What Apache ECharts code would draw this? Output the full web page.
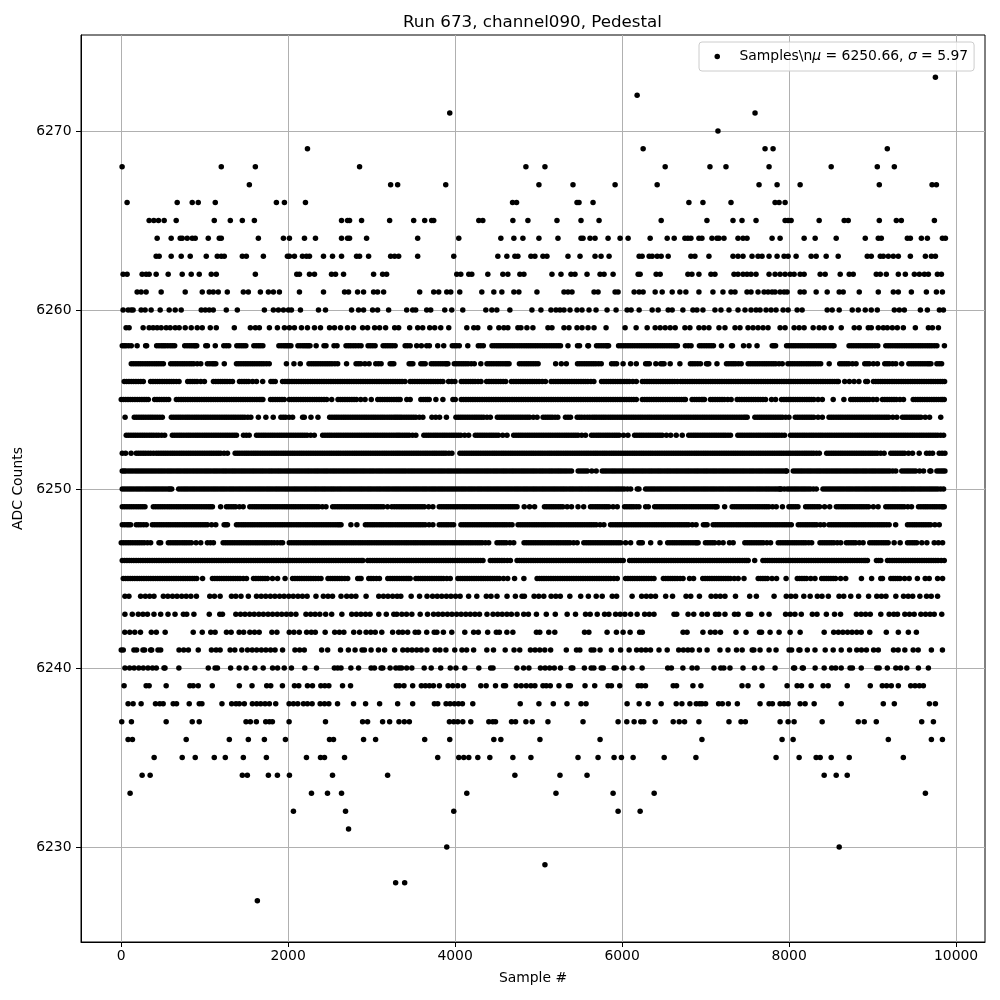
<!DOCTYPE html>
<html><head><meta charset="utf-8">
<style>html,body{margin:0;padding:0;background:#fff}#c{width:1000px;height:1000px}</style>
<script src="https://cdn.jsdelivr.net/npm/echarts@6/dist/echarts.min.js"></script>
</head><body><div id="c"></div>
<script>
const titleText='Run 673, channel090, Pedestal';
const xName='Sample #';
const yName='ADC Counts';
const seriesName='Samples\\nμ = 6250.66, σ = 5.97';
const xTicks=[0,2000,4000,6000,8000,10000];
const yTicks=[6230,6240,6250,6260,6270];
const s6273=[9752];
const s6272=[6180];
const s6271=[3936,7592];
const s6270=[7148];
const s6269=[2232,6252,7712,7808,9176];
const s6268=[12,1200,1608,2856,4848,5076,6516,7052,7244,7760,8504,9056,9260];
const s6267=[1536,3228,3312,3888,5004,5412,5916,6420,7640,7856,8132,9080,9712,9764];
const s6266=[72,672,852,924,1128,1860,1956,2208,4688,4736,5460,5484,5652,6800,6968,7304,7832,7880,7952];
const s6265=[336,392,448,516,660,1116,1308,1452,1596,2640,2712,2736,2880,3216,3504,3636,3720,3744,4284,4332,4692,4872,5220,5508,5724,6468,7016,7328,7436,7604,7952,7988,8024,8360,8660,8708,9080,9284,9344,9740];
const s6264=[432,600,708,732,792,852,888,1044,1176,1200,1644,1944,2016,2196,2328,2640,2712,2736,2940,3552,4044,4548,4704,4812,5004,5232,5508,5532,5616,5676,5832,5976,6072,6336,6540,6624,6752,6788,6824,6920,6956,7076,7136,7160,7220,7388,7448,7496,7796,7892,8180,8312,8564,8912,9068,9104,9416,9452,9584,9656,9836,9872];
const s6263=[420,456,600,720,828,1020,1152,1200,1236,1452,1500,1704,1992,2016,2076,2172,2220,2256,2424,2532,2640,2820,2856,2964,3228,3276,3324,3552,3984,4512,4620,4716,4752,4908,4956,5052,5100,5352,5496,5676,5748,5844,6204,6240,6324,6360,6420,6468,6552,6824,6872,7040,7328,7388,7448,7556,7628,7676,7760,7856,7940,7988,8084,8264,8324,8444,8588,8936,8984,9092,9128,9188,9248,9308,9452,9632,9704,9752];
const s6262=[24,72,252,300,336,420,564,732,840,936,1080,1140,1608,2104,2136,2256,2316,2520,2568,2664,3024,3132,3180,4020,4068,4164,4200,4392,4572,4632,4776,4824,5160,5268,5388,5436,5580,5736,5784,5892,6192,6216,6408,6456,6788,6836,6920,7064,7112,7340,7388,7448,7496,7544,7604,7760,7832,7892,7952,8012,8060,8132,8180,8372,8432,8612,8720,8768,9044,9092,9164,9308,9392,9500,9560,9620,9668,9776,9824];
const s6261=[192,240,300,480,768,972,1056,1104,1164,1272,1464,1524,1668,1764,1824,1896,2136,2424,2676,2724,2832,2904,3024,3072,3144,3576,3744,3804,3900,3948,4056,4320,4464,4560,4704,4764,4980,5304,5352,5400,5664,5712,5916,5952,6144,6204,6252,6396,6480,6600,6692,6764,6920,7088,7208,7304,7352,7496,7544,7628,7700,7748,7796,7832,7892,7940,7976,8132,8180,8324,8456,8600,8648,8840,9068,9248,9308,9464,9644,9764,9836];
const s6260=[24,84,120,144,240,288,360,468,576,648,720,960,1008,1056,1104,1260,1392,1716,1824,1884,1944,2004,2040,2148,2364,2448,2760,2844,2904,3012,3072,3204,3420,3492,3528,3660,3708,3876,3960,4092,4368,4440,4500,4656,4920,5028,5148,5208,5256,5304,5376,5460,5520,5604,5688,5820,5928,6060,6108,6204,6360,6432,6552,6600,6728,6848,6896,6968,7112,7184,7280,7388,7472,7544,7604,7652,7724,7784,7844,7928,7988,8096,8156,8456,8516,8600,8756,8828,8912,8984,9056,9260,9320,9380,9572,9656,9800,9848];
const s6259=[60,96,264,336,384,432,480,540,588,648,696,768,840,912,972,1068,1140,1356,1548,1608,1656,1776,1872,1956,2016,2076,2160,2232,2316,2388,2496,2556,2628,2712,2784,2892,2952,3036,3096,3168,3276,3324,3456,3552,3612,3696,3756,3828,3924,4140,4224,4272,4416,4524,4584,4632,4752,4788,4860,4932,5112,5160,5304,5364,5460,5520,5592,5664,5808,6036,6168,6300,6396,6456,6516,6576,6636,6752,6812,6920,6980,7040,7160,7232,7352,7412,7508,7568,7628,7688,7748,7892,7952,8060,8120,8180,8288,8360,8420,8504,8624,8780,8840,8948,8984,9068,9128,9176,9236,9296,9368,9512,9668,9716,9788];
const s6258=[14,60,122,192,294,306,426,482,530,590,642,762,818,870,906,1014,1034,1128,1230,1290,1386,1442,1494,1590,1646,1698,1890,1946,1990,2034,2118,2174,2220,2262,2336,2430,2454,2550,2586,2694,2750,2810,2874,2958,3014,3042,3138,3194,3250,3282,3402,3462,3540,3596,3660,3692,3792,3864,3966,4020,4050,4152,4278,4338,4442,4498,4550,4606,4660,4714,4770,4826,4880,4934,4990,5046,5100,5156,5210,5262,5352,5466,5490,5590,5598,5694,5750,5806,5838,5958,6014,6070,6124,6180,6236,6290,6346,6400,6456,6510,6566,6620,6662,6758,6826,6926,6982,7040,7094,7190,7310,7322,7454,7520,7616,7798,7838,7970,8026,8080,8136,8190,8246,8300,8356,8410,8466,8520,8538,8718,8774,8830,8886,8940,8996,9062,9158,9214,9270,9324,9380,9436,9490,9546,9600,9656,9710,9770,9860];
const f6258=[37,91,454,506,560,616,790,844,888,1260,1414,1468,1618,1672,1918,1968,2012,2146,2197,2241,2722,2780,2842,2986,3166,3222,3430,3993,4308,4470,4524,4578,4633,4687,4742,4798,4853,4907,4962,5018,5073,5128,5183,5236,5722,5778,5822,5986,6042,6097,6152,6208,6263,6318,6373,6428,6483,6538,6593,6641,6792,6954,7011,7067,7818,7998,8053,8108,8163,8218,8273,8328,8383,8438,8493,8746,8802,8858,8913,8968,9029,9186,9242,9297,9352,9408,9463,9518,9573,9628,9683,9740];
const s6257=[122,178,232,288,342,398,452,506,594,650,706,760,816,870,954,1034,1090,1134,1236,1382,1436,1492,1546,1600,1656,1710,1774,1980,2070,2146,2250,2306,2360,2416,2470,2526,2594,2700,2814,2870,2970,3050,3114,3222,3266,3450,3494,3590,3642,3714,3770,3826,3880,3914,3990,4046,4100,4156,4230,4308,4382,4436,4492,4546,4600,4646,4770,4826,4880,4936,4994,5204,5272,5332,5466,5520,5576,5630,5686,5750,5874,5934,6012,6102,6170,6282,6326,6404,6462,6502,6576,6692,6818,6874,6938,7010,7038,7136,7250,7306,7360,7426,7510,7566,7620,7676,7730,7786,7840,7918,7986,8040,8096,8150,8206,8260,8316,8378,8480,8606,8660,8716,8802,8906,8960,9058,9146,9200,9278,9348,9434,9490,9546,9600,9654,9698,9770,9826];
const f6257=[150,205,260,315,370,425,479,622,678,733,788,843,912,1062,1112,1409,1464,1519,1573,1628,1683,1742,2278,2333,2388,2443,2498,2560,2842,2920,3082,3244,3472,3616,3742,3798,3853,3897,4018,4073,4128,4193,4409,4464,4519,4573,4623,4798,4853,4908,4965,5493,5548,5603,5658,5718,5904,6304,6482,6846,6906,7024,7278,7333,7393,7538,7593,7648,7703,7758,7813,7879,8013,8068,8123,8178,8233,8288,8347,8633,8688,8759,8933,9009,9173,9239,9462,9518,9573,9627,9676,9798];
const s6256=[38,94,150,206,266,354,410,464,520,576,630,694,798,854,910,998,1106,1162,1216,1270,1334,1418,1474,1528,1622,1696,1794,1846,1934,1990,2046,2100,2156,2210,2266,2320,2376,2430,2486,2540,2596,2650,2706,2760,2816,2870,2926,2980,3036,3090,3146,3200,3256,3310,3366,3400,3462,3518,3574,3628,3684,3738,3794,3854,3922,3998,4074,4130,4186,4240,4310,4378,4434,4490,4546,4606,4674,4730,4786,4840,4896,4950,5006,5082,5150,5206,5260,5316,5370,5426,5480,5536,5590,5662,5754,5810,5864,5920,5976,6030,6086,6170,6242,6298,6352,6408,6462,6518,6572,6628,6662,6700,6756,6812,6866,6922,6976,7032,7086,7142,7196,7252,7306,7362,7416,7472,7526,7582,7636,7692,7746,7802,7856,7912,7966,8022,8076,8132,8186,8242,8296,8352,8406,8462,8516,8572,8590,8666,8778,8836,8918,8938,9010,9066,9120,9176,9232,9286,9342,9396,9452,9506,9562,9616,9672,9726,9782,9836,9862];
const f6256=[66,122,178,236,382,437,492,548,603,662,826,882,954,1134,1189,1243,1302,1446,1501,1575,1820,1962,2018,2073,2128,2183,2238,2293,2348,2403,2458,2513,2568,2623,2678,2733,2788,2843,2898,2953,3008,3063,3118,3173,3228,3283,3338,3490,3546,3601,3656,3711,3766,3824,3960,4102,4158,4213,4275,4406,4462,4518,4576,4702,4758,4813,4868,4923,4978,5044,5178,5233,5288,5343,5398,5453,5508,5563,5626,5782,5837,5892,5948,6003,6058,6128,6270,6325,6380,6435,6490,6545,6600,6728,6784,6839,6894,6949,7004,7059,7114,7169,7224,7279,7334,7389,7444,7499,7554,7609,7664,7719,7774,7829,7884,7939,7994,8049,8104,8159,8214,8269,8324,8379,8434,8489,8544,8722,9038,9093,9148,9204,9259,9314,9369,9424,9479,9534,9589,9644,9699,9754,9809];
const s6255=[2,56,110,166,222,276,326,402,458,514,570,662,718,772,828,884,938,994,1048,1104,1158,1214,1268,1324,1378,1434,1488,1544,1598,1654,1698,1790,1846,1900,1954,2014,2070,2124,2180,2234,2290,2344,2400,2462,2522,2598,2654,2708,2764,2818,2922,2996,3074,3130,3186,3240,3296,3342,3422,3462,3590,3646,3690,3770,3854,3974,4002,4074,4130,4186,4240,4296,4352,4406,4462,4516,4572,4626,4682,4736,4792,4846,4902,4956,5012,5066,5122,5176,5232,5286,5342,5396,5452,5506,5562,5616,5672,5726,5782,5836,5892,5946,6002,6056,6112,6170,6242,6298,6352,6408,6462,6518,6572,6628,6684,6740,6758,6838,6894,6950,6986,7058,7114,7170,7224,7306,7378,7434,7490,7546,7600,7656,7718,7790,7838,7910,7966,8020,8076,8130,8186,8240,8296,8398,8528,8656,8738,8794,8850,8904,8960,9050,9118,9174,9230,9284,9370,9486,9542,9596,9652,9708,9762,9818,9858];
const f6255=[29,83,138,194,249,301,430,486,542,690,745,800,856,911,966,1021,1076,1131,1186,1241,1296,1351,1406,1461,1516,1571,1626,1676,1818,1873,1927,2042,2097,2152,2207,2262,2317,2372,2431,2626,2681,2736,2791,2870,3102,3158,3213,3268,3319,3618,3668,4102,4158,4213,4268,4324,4379,4434,4489,4544,4599,4654,4709,4764,4819,4874,4929,4984,5039,5094,5149,5204,5259,5314,5369,5424,5479,5534,5589,5644,5699,5754,5809,5864,5919,5974,6029,6084,6140,6270,6325,6380,6435,6490,6545,6600,6656,6712,6866,6922,6968,7086,7142,7197,7265,7406,7462,7518,7573,7628,7687,7938,7993,8048,8103,8158,8213,8268,8347,8766,8822,8877,8932,9005,9146,9202,9257,9327,9514,9569,9624,9680,9735,9790,9838];
const s6254=[48,158,214,268,324,378,434,494,602,658,712,768,822,878,932,988,1042,1098,1152,1208,1262,1318,1372,1428,1482,1554,1644,1734,1822,1914,1970,2054,2174,2194,2274,2358,2498,2554,2608,2664,2718,2774,2828,2884,2938,2994,3048,3104,3158,3214,3268,3314,3362,3418,3474,3530,3614,3722,3814,3896,4010,4066,4120,4176,4232,4286,4342,4422,4506,4562,4618,4672,4728,4782,4838,4892,4982,5054,5110,5164,5230,5322,5382,5462,5518,5582,5642,5696,5752,5806,5862,5916,5972,6026,6082,6136,6192,6246,6302,6356,6412,6466,6522,6576,6632,6686,6742,6796,6852,6906,6962,7016,7072,7126,7182,7236,7292,7346,7402,7456,7498,7590,7646,7700,7756,7810,7866,7920,7998,8074,8130,8186,8240,8296,8398,8478,8534,8590,8644,8700,8754,8810,8864,8920,8974,9030,9084,9140,9194,9290,9358,9412,9468,9522,9578,9682,9816];
const f6254=[186,241,296,351,406,464,630,685,740,795,850,905,960,1015,1070,1125,1180,1235,1290,1345,1400,1455,1518,1942,2012,2526,2581,2636,2691,2746,2801,2856,2911,2966,3021,3076,3131,3186,3241,3291,3338,3390,3446,3502,3572,3768,4038,4093,4148,4204,4259,4314,4382,4534,4590,4645,4700,4755,4810,4865,4937,5082,5137,5197,5352,5490,5550,5612,5669,5724,5779,5834,5889,5944,5999,6054,6109,6164,6219,6274,6329,6384,6439,6494,6549,6604,6659,6714,6769,6824,6879,6934,6989,7044,7099,7154,7209,7264,7319,7374,7429,7477,7618,7673,7728,7783,7838,7893,7959,8102,8158,8213,8268,8347,8506,8562,8617,8672,8727,8782,8837,8892,8947,9002,9057,9112,9167,9242,9386,9440,9495,9550,9630];
const s6253=[62,118,172,228,282,338,392,450,522,614,670,724,780,834,890,944,1000,1054,1110,1164,1220,1274,1330,1382,1466,1534,1622,1678,1732,1788,1842,1898,1952,2008,2062,2118,2172,2228,2314,2414,2470,2524,2580,2634,2690,2744,2800,2854,2910,2964,3020,3074,3130,3184,3240,3294,3340,3396,3450,3530,3626,3682,3738,3792,3848,3902,3958,4012,4068,4162,4242,4298,4352,4408,4462,4518,4622,4702,4758,4812,4868,4922,4978,5032,5088,5142,5198,5252,5308,5362,5418,5472,5562,5634,5690,5744,5800,5854,5910,5964,6070,6150,6206,6260,6316,6370,6426,6480,6582,6648,6720,6798,6854,6908,6964,7018,7074,7128,7184,7238,7298,7386,7440,7496,7550,7606,7660,7716,7770,7826,7880,7946,8018,8074,8130,8184,8240,8294,8350,8404,8460,8514,8570,8624,8680,8734,8790,8844,8900,8954,9010,9064,9120,9174,9230,9284,9340,9394,9450,9504,9560,9614,9670,9724,9780,9850];
const f6253=[90,145,200,255,310,365,421,486,642,697,752,807,862,917,972,1027,1082,1137,1192,1247,1302,1356,1500,1650,1705,1760,1815,1870,1925,1980,2035,2090,2145,2200,2271,2442,2497,2552,2607,2662,2717,2772,2827,2882,2937,2992,3047,3102,3157,3212,3267,3317,3368,3423,3490,3654,3710,3765,3820,3875,3930,3985,4040,4115,4270,4325,4380,4435,4490,4570,4730,4785,4840,4895,4950,5005,5060,5115,5170,5225,5280,5335,5390,5445,5517,5662,5717,5772,5827,5882,5937,6017,6178,6233,6288,6343,6398,6453,6531,6826,6881,6936,6991,7046,7101,7156,7211,7268,7413,7468,7523,7578,7633,7688,7743,7798,7853,7913,8046,8102,8157,8212,8267,8322,8377,8432,8487,8542,8597,8652,8707,8762,8817,8872,8927,8982,9037,9092,9147,9202,9257,9312,9367,9422,9477,9532,9587,9642,9697,9752,9815];
const s6252=[14,54,120,182,238,294,354,422,478,532,588,642,698,752,808,862,918,972,1028,1082,1138,1192,1274,1366,1420,1476,1530,1586,1640,1696,1750,1806,1860,1916,1970,2026,2080,2136,2190,2246,2300,2356,2410,2466,2520,2576,2630,2686,2740,2796,2850,2906,2960,3016,3070,3126,3180,3236,3290,3340,3396,3450,3506,3560,3616,3670,3726,3780,3836,3890,3962,4058,4114,4168,4224,4278,4334,4388,4444,4498,4554,4608,4664,4718,4774,4828,4884,4938,4994,5048,5104,5158,5214,5268,5324,5378,5434,5488,5544,5598,5654,5708,5764,5818,5874,5928,5984,6038,6094,6148,6204,6258,6314,6368,6424,6478,6534,6588,6644,6698,6754,6808,6864,6918,6974,7028,7084,7138,7194,7248,7304,7358,7414,7468,7524,7578,7634,7688,7744,7798,7854,7908,7964,8018,8074,8128,8184,8238,8294,8362,8450,8506,8560,8616,8670,8726,8780,8836,8890,8946,9000,9056,9138,9218,9272,9328,9382,9478,9558,9646,9718,9798,9866];
const f6252=[210,266,324,388,450,505,560,615,670,725,780,835,890,945,1000,1055,1110,1165,1233,1393,1448,1503,1558,1613,1668,1723,1778,1833,1888,1943,1998,2053,2108,2163,2218,2273,2328,2383,2438,2493,2548,2603,2658,2713,2768,2823,2878,2933,2988,3043,3098,3153,3208,3263,3315,3368,3423,3478,3533,3588,3643,3698,3753,3808,3863,3926,4086,4141,4196,4251,4306,4361,4416,4471,4526,4581,4636,4691,4746,4801,4856,4911,4966,5021,5076,5131,5186,5241,5296,5351,5406,5461,5516,5571,5626,5681,5736,5791,5846,5901,5956,6011,6066,6121,6176,6231,6286,6341,6396,6451,6506,6561,6616,6671,6726,6781,6836,6891,6946,7001,7056,7111,7166,7221,7276,7331,7386,7441,7496,7551,7606,7661,7716,7771,7826,7881,7936,7991,8046,8101,8156,8211,8266,8328,8478,8533,8588,8643,8698,8753,8808,8863,8918,8973,9028,9097,9245,9300,9355,9430,9682,9832];
const s6251=[14,56,112,168,222,276,332,386,442,496,552,606,662,716,772,826,882,936,992,1046,1102,1156,1212,1266,1322,1376,1432,1486,1542,1596,1652,1706,1762,1816,1872,1926,1982,2036,2092,2146,2202,2256,2312,2366,2422,2476,2532,2586,2642,2696,2752,2806,2862,2916,2972,3026,3082,3136,3192,3246,3302,3356,3410,3466,3520,3576,3630,3686,3740,3796,3850,3906,3960,4016,4070,4126,4180,4236,4290,4346,4400,4456,4510,4566,4620,4676,4730,4786,4840,4896,4950,5006,5060,5116,5170,5226,5280,5336,5394,5474,5530,5584,5690,5762,5816,5872,5926,5982,6036,6092,6146,6202,6256,6312,6366,6422,6476,6532,6586,6642,6696,6752,6806,6862,6916,6972,7026,7082,7136,7192,7246,7302,7356,7412,7466,7522,7576,7632,7686,7742,7796,7852,7906,7962,7970,8050,8106,8160,8216,8270,8326,8380,8436,8490,8546,8600,8656,8710,8766,8820,8876,8930,8986,9040,9096,9150,9206,9278,9350,9406,9460,9516,9610,9698,9770,9820,9866];
const f6251=[35,84,140,195,249,304,359,414,469,524,579,634,689,744,799,854,909,964,1019,1074,1129,1184,1239,1294,1349,1404,1459,1514,1569,1624,1679,1734,1789,1844,1899,1954,2009,2064,2119,2174,2229,2284,2339,2394,2449,2504,2559,2614,2669,2724,2779,2834,2889,2944,2999,3054,3109,3164,3219,3274,3329,3383,3438,3493,3548,3603,3658,3713,3768,3823,3878,3933,3988,4043,4098,4153,4208,4263,4318,4373,4428,4483,4538,4593,4648,4703,4758,4813,4868,4923,4978,5033,5088,5143,5198,5253,5308,5365,5502,5557,5637,5789,5844,5899,5954,6009,6064,6119,6174,6229,6284,6339,6394,6449,6504,6559,6614,6669,6724,6779,6834,6889,6944,6999,7054,7109,7164,7219,7274,7329,7384,7439,7494,7549,7604,7659,7714,7769,7824,7879,7934,8078,8133,8188,8243,8298,8353,8408,8463,8518,8573,8628,8683,8738,8793,8848,8903,8958,9013,9068,9123,9178,9242,9378,9433,9488,9563,9686,9795,9843];
const s6250=[14,70,124,180,234,290,344,400,454,510,566,606,690,746,800,856,910,966,1020,1076,1130,1186,1240,1296,1350,1406,1460,1516,1570,1626,1680,1736,1790,1846,1900,1956,2010,2066,2120,2176,2230,2286,2340,2396,2450,2506,2560,2616,2670,2726,2780,2836,2890,2946,3000,3056,3110,3166,3220,3276,3330,3386,3440,3496,3550,3606,3660,3716,3770,3826,3880,3936,3990,4046,4100,4156,4210,4266,4320,4376,4430,4486,4540,4596,4650,4706,4760,4816,4870,4926,4980,5036,5090,5146,5200,5256,5310,5366,5420,5476,5530,5586,5640,5696,5750,5806,5860,5916,5970,6026,6102,6182,6202,6282,6338,6392,6448,6502,6558,6612,6668,6724,6778,6834,6888,6944,6998,7054,7108,7164,7218,7274,7328,7384,7438,7494,7548,7604,7658,7714,7768,7824,7878,7906,7978,8034,8088,8144,8198,8254,8326,8406,8462,8516,8572,8626,8682,8736,8792,8846,8902,8956,9012,9066,9122,9176,9232,9286,9342,9396,9452,9506,9562,9616,9672,9726,9782,9850];
const f6250=[42,97,152,207,262,317,372,427,482,538,586,718,773,828,883,938,993,1048,1103,1158,1213,1268,1323,1378,1433,1488,1543,1598,1653,1708,1763,1818,1873,1928,1983,2038,2093,2148,2203,2258,2313,2368,2423,2478,2533,2588,2643,2698,2753,2808,2863,2918,2973,3028,3083,3138,3193,3248,3303,3358,3413,3468,3523,3578,3633,3688,3743,3798,3853,3908,3963,4018,4073,4128,4183,4238,4293,4348,4403,4458,4513,4568,4623,4678,4733,4788,4843,4898,4953,5008,5063,5118,5173,5228,5283,5338,5393,5448,5503,5558,5613,5668,5723,5778,5833,5888,5943,5998,6064,6310,6365,6420,6475,6530,6585,6640,6696,6751,6806,6861,6916,6971,7026,7081,7136,7191,7246,7301,7356,7411,7466,7521,7576,7631,7686,7741,7796,7851,7892,7942,8006,8061,8116,8171,8226,8290,8434,8489,8544,8599,8654,8709,8764,8819,8874,8929,8984,9039,9094,9149,9204,9259,9314,9369,9424,9479,9534,9589,9644,9699,9754,9816];
const s6249=[14,70,124,180,234,286,386,442,496,552,606,662,716,772,826,882,936,992,1046,1094,1192,1262,1318,1372,1462,1542,1598,1652,1708,1762,1818,1872,1928,1982,2038,2092,2148,2202,2258,2312,2368,2454,2534,2590,2644,2700,2754,2810,2864,2920,2974,3030,3084,3140,3242,3302,3358,3412,3468,3522,3578,3632,3734,3810,3866,3920,3976,4030,4086,4140,4196,4250,4306,4360,4416,4470,4526,4580,4636,4690,4742,4828,4892,4952,5070,5126,5180,5236,5290,5394,5472,5540,5622,5678,5732,5788,5842,5942,6030,6086,6140,6202,6282,6314,6390,6446,6500,6556,6610,6666,6722,6776,6832,6886,6942,6996,7052,7106,7138,7228,7318,7374,7428,7484,7538,7594,7648,7704,7758,7846,7920,7998,8050,8106,8198,8254,8308,8364,8486,8566,8622,8676,8732,8786,8842,8896,8952,9066,9158,9214,9268,9324,9378,9466,9550,9606,9660,9716,9770,9826,9858];
const f6249=[42,97,152,207,260,414,469,524,579,634,689,744,799,854,909,964,1019,1070,1290,1345,1417,1570,1625,1680,1735,1790,1845,1900,1955,2010,2065,2120,2175,2230,2285,2340,2411,2562,2617,2672,2727,2782,2837,2892,2947,3002,3057,3112,3191,3272,3330,3385,3440,3495,3550,3605,3683,3838,3893,3948,4003,4058,4113,4168,4223,4278,4333,4388,4443,4498,4553,4608,4663,4716,5098,5153,5208,5263,5342,5650,5705,5760,5815,5892,6058,6113,6171,6418,6473,6528,6583,6638,6694,6749,6804,6859,6914,6969,7024,7079,7122,7346,7401,7456,7511,7566,7621,7676,7731,7802,8024,8078,8226,8281,8336,8425,8594,8649,8704,8759,8814,8869,8924,9009,9186,9241,9296,9351,9422,9578,9633,9688,9743,9798,9842];
const s6248=[14,70,114,182,238,302,374,430,484,540,594,650,704,760,814,870,924,980,1034,1134,1234,1274,1382,1438,1492,1548,1602,1658,1712,1768,1822,1878,1932,1988,2042,2098,2152,2208,2262,2318,2372,2428,2482,2538,2592,2634,2752,2824,2926,2982,3036,3092,3146,3202,3256,3312,3366,3422,3476,3532,3586,3642,3734,3810,3866,3920,3982,4070,4126,4180,4236,4290,4346,4400,4456,4510,4566,4620,4682,4754,4810,4864,4920,4974,5030,5084,5140,5194,5250,5304,5360,5414,5470,5524,5580,5634,5690,5782,5862,5918,5972,6028,6082,6138,6192,6248,6302,6358,6412,6468,6522,6578,6632,6688,6742,6796,6886,6974,7018,7090,7146,7200,7256,7310,7366,7420,7476,7530,7586,7640,7696,7750,7806,7860,7916,7970,8026,8110,8166,8220,8276,8330,8418,8478,8534,8588,8644,8698,8754,8808,8864,8918,8974,9028,9084,9138,9198,9276,9418,9474,9528,9584,9638,9694,9798];
const f6248=[42,92,210,270,402,457,512,567,622,677,732,787,842,897,952,1007,1084,1254,1410,1465,1520,1575,1630,1685,1740,1795,1850,1905,1960,2015,2070,2125,2180,2235,2290,2345,2400,2455,2510,2565,2613,2954,3009,3064,3119,3174,3229,3284,3339,3394,3449,3504,3559,3614,3688,3838,3893,3951,4098,4153,4208,4263,4318,4373,4428,4483,4538,4593,4651,4782,4837,4892,4947,5002,5057,5112,5167,5222,5277,5332,5387,5442,5497,5552,5607,5662,5736,5890,5945,6000,6055,6110,6165,6220,6275,6330,6385,6440,6495,6550,6605,6660,6715,6769,6841,6996,7118,7173,7228,7283,7338,7393,7448,7503,7558,7613,7668,7723,7778,7833,7888,7943,7998,8138,8193,8248,8303,8374,8506,8561,8616,8671,8726,8781,8836,8891,8946,9001,9056,9111,9168,9446,9501,9556,9611,9666,9746];
const s6247=[2,58,112,168,222,278,354,454,474,566,622,676,732,786,842,954,1034,1106,1222,1278,1332,1388,1442,1498,1552,1608,1662,1718,1772,1834,1906,1934,2014,2070,2124,2180,2234,2290,2344,2400,2454,2510,2564,2620,2674,2730,2784,2840,2894,2950,3004,3060,3114,3170,3224,3280,3334,3390,3444,3500,3554,3610,3664,3720,3774,3830,3884,3940,3994,4050,4104,4160,4214,4270,4324,4402,4502,4558,4612,4702,4826,4882,4936,4992,5046,5102,5156,5212,5266,5322,5376,5462,5542,5598,5652,5708,5762,5818,5872,5928,5982,6102,6202,6242,6342,6454,6546,6602,6656,6712,6766,6822,6876,6910,6998,7054,7108,7210,7286,7330,7470,7526,7580,7636,7690,7778,7870,7926,7980,8036,8090,8146,8200,8270,8370,8426,8480,8536,8618,8686,8742,8796,8886,8966,9022,9076,9132,9186,9330,9418,9474,9528,9650,9738,9838];
const f6247=[30,85,140,195,250,316,594,649,704,759,814,898,1070,1250,1305,1360,1415,1470,1525,1580,1635,1690,1745,1803,1870,2042,2097,2152,2207,2262,2317,2372,2427,2482,2537,2592,2647,2702,2757,2812,2867,2922,2977,3032,3087,3142,3197,3252,3307,3362,3417,3472,3527,3582,3637,3692,3747,3802,3857,3912,3967,4022,4077,4132,4187,4242,4297,4363,4530,4585,4657,4854,4909,4964,5019,5074,5129,5184,5239,5294,5349,5419,5570,5625,5680,5735,5790,5845,5900,5955,6042,6222,6574,6629,6684,6739,6794,6849,6893,7026,7081,7159,7498,7553,7608,7663,7734,7898,7953,8008,8063,8118,8173,8235,8398,8453,8508,8577,8714,8769,8841,8994,9049,9104,9159,9258,9446,9501,9589,9788];
const s6246=[14,70,124,180,234,290,344,400,454,510,564,620,675,730,784,840,895,950,1004,1060,1115,1170,1224,1280,1335,1390,1444,1500,1555,1610,1664,1720,1775,1830,1884,1940,1995,2050,2104,2160,2215,2270,2324,2380,2435,2490,2544,2600,2655,2710,2764,2820,2875,2896,2954,3010,3064,3120,3174,3230,3284,3340,3395,3450,3504,3560,3615,3670,3724,3780,3835,3890,3944,4000,4055,4110,4164,4220,4275,4334,4422,4478,4532,4588,4662,4742,4798,4852,4908,4962,5018,5072,5128,5182,5238,5292,5348,5402,5458,5512,5568,5622,5678,5732,5788,5842,5898,5952,6014,6090,6146,6200,6256,6310,6366,6420,6476,6530,6586,6640,6696,6750,6806,6860,6916,6970,7026,7080,7136,7190,7246,7300,7356,7410,7466,7510,7588,7686,7742,7796,7852,7906,7962,8016,8072,8126,8182,8236,8292,8346,8402,8456,8512,8566,8622,8676,8732,8786,8842,8896,8938,9046,9098,9178,9234,9288,9344,9398,9454,9508,9564,9618,9674,9728,9784,9858];
const f6246=[42,97,152,207,262,317,372,427,482,537,592,648,703,757,812,868,923,977,1032,1088,1143,1197,1252,1308,1363,1417,1472,1528,1583,1637,1692,1748,1803,1857,1912,1968,2023,2077,2132,2188,2243,2297,2352,2408,2463,2517,2572,2628,2683,2737,2792,2848,2982,3037,3092,3147,3202,3257,3312,3368,3423,3477,3532,3588,3643,3697,3752,3808,3863,3917,3972,4028,4083,4137,4192,4248,4305,4450,4505,4560,4625,4770,4825,4880,4935,4990,5045,5100,5155,5210,5265,5320,5375,5430,5485,5540,5595,5650,5705,5760,5815,5870,5925,5983,6118,6173,6228,6283,6338,6393,6448,6503,6558,6613,6668,6723,6778,6833,6888,6943,6998,7053,7108,7163,7218,7273,7328,7383,7438,7488,7714,7769,7824,7879,7934,7989,8044,8099,8154,8209,8264,8319,8374,8429,8484,8539,8594,8649,8704,8759,8814,8869,8917,9072,9206,9261,9316,9371,9426,9481,9536,9591,9646,9701,9756,9821];
const s6245=[26,82,136,192,246,302,356,412,466,522,576,632,686,742,796,852,906,976,1094,1150,1204,1260,1314,1370,1424,1502,1586,1642,1696,1752,1874,1964,2054,2110,2164,2220,2274,2330,2394,2478,2534,2588,2644,2714,2834,2874,2966,3022,3094,3194,3250,3304,3360,3414,3462,3530,3586,3640,3696,3750,3806,3860,3942,4034,4090,4144,4200,4254,4310,4364,4420,4474,4530,4630,4712,4824,4982,5038,5092,5148,5202,5258,5312,5368,5422,5478,5532,5588,5642,5698,5752,5808,5862,5942,6042,6098,6152,6208,6262,6318,6382,6494,6550,6604,6660,6730,6808,6856,6966,7022,7076,7132,7186,7242,7296,7390,7460,7630,7686,7740,7850,7964,8098,8154,8208,8310,8390,8446,8500,8556,8678,8866,8988,9098,9118,9218,9272,9328,9438,9536,9630,9678,9778,9838];
const f6245=[54,109,164,219,274,329,384,439,494,549,604,659,714,769,824,879,1122,1177,1232,1287,1342,1397,1463,1614,1669,1724,1813,2082,2137,2192,2247,2302,2362,2506,2561,2616,2679,2854,2994,3058,3222,3277,3332,3387,3438,3558,3613,3668,3723,3778,3833,3901,4062,4117,4172,4227,4282,4337,4392,4447,4502,4580,5010,5065,5120,5175,5230,5285,5340,5395,5450,5505,5560,5615,5670,5725,5780,5835,5902,6070,6125,6180,6235,6290,6350,6522,6577,6632,6695,6994,7049,7104,7159,7214,7269,7343,7658,7713,7795,8126,8181,8259,8418,8473,8528,8617,9246,9300,9383];
const s6244=[46,94,234,290,342,394,506,560,616,670,726,780,836,902,1062,1118,1186,1322,1374,1436,1524,1622,1678,1732,1788,1842,1898,1952,2008,2062,2118,2172,2228,2334,2422,2478,2532,2634,2702,2758,2812,2934,3086,3142,3196,3252,3306,3350,3474,3574,3664,3730,3786,3840,3896,3950,4006,4060,4162,4260,4374,4430,4502,4622,4722,4802,4830,4946,5002,5062,5150,5206,5260,5374,5504,5596,5690,5762,5882,5934,6120,6234,6290,6344,6400,6522,6604,6766,6822,6926,7066,7122,7176,7232,7358,7528,7608,7820,7966,8022,8078,8176,8252,8338,8394,8470,8598,8654,8738,8832,8952,9050,9106,9160,9278,9370,9426,9480,9566,9646,9702,9778];
const s6243=[46,134,206,262,316,394,474,562,646,746,786,872,1056,1182,1214,1374,1430,1484,1540,1594,1650,1704,1760,1814,1870,1924,1980,2034,2094,2214,2270,2324,2380,2450,2522,2644,2762,2818,2872,2928,2982,3086,3176,3266,3302,3362,3418,3482,3582,3670,3742,3798,3852,3908,3962,4018,4072,4128,4182,4238,4292,4382,4454,4510,4564,4620,4674,4742,4822,4878,4974,5092,5200,5342,5442,5562,5618,5702,5790,5842,5922,5978,6034,6102,6180,6270,6326,6382,6622,6654,6790,6858,6956,7020,7118,7158,7232,7346,7390,7510,7538,7672,7760,7958,8014,8070,8146,8278,8334,8446,8544,8616,8806,8862,8916,8972,9098,9198,9254,9298,9386,9442,9498,9578,9634,9688,9738,9828];
const s6242=[44,104,164,232,362,422,528,864,972,1074,1126,1262,1318,1414,1468,1542,1598,1654,1806,1866,2014,2070,2134,2222,2278,2326,2444,2558,2614,2668,2786,2856,2934,2990,3044,3122,3252,3324,3372,3432,3522,3562,3660,3750,3782,3860,3960,4116,4222,4278,4390,4494,4530,4620,4692,4974,5014,5122,5194,5550,5602,5820,5932,6012,6096,6210,6242,6730,6778,6968,7058,7114,7178,7364,7484,7646,7670,7772,7880,8012,8132,8420,8534,8590,8644,8700,8754,8810,8864,8966,9164,9308,9428,9524];
const s6241=[2,26,154,186,262,282,354,366,442,474,694,750,806,924,1082,1138,1186,1306,1362,1446,1514,1570,1624,1680,1734,1790,1844,1934,2082,2138,2194,2402,2474,2628,2722,2802,2886,2914,2994,3082,3156,3276,3374,3430,3484,3540,3594,3662,3762,3818,3890,3996,4082,4138,4222,4380,4460,4600,4706,4774,4902,4958,5014,5074,5144,5332,5454,5494,5630,5662,5736,5872,5982,6084,6174,6230,6284,6340,6442,6540,6678,6734,6788,6838,6926,7018,7172,7268,7370,7438,7558,7578,7652,7760,7844,8000,8030,8118,8130,8218,8310,8432,8528,8624,8724,8810,8866,8926,9012,9068,9250,9306,9386,9486,9546,9704,9836];
const s6240=[46,102,156,212,266,322,376,422,514,526,692,1044,1126,1154,1312,1414,1498,1602,1702,1814,1874,1954,2040,2200,2340,2554,2594,2634,2752,2844,2994,3034,3114,3134,3222,3290,3330,3360,3420,3482,3630,3714,3828,3942,4010,4116,4284,4426,4454,4740,4820,4884,5022,5078,5132,5188,5262,5390,5410,5548,5630,5662,5750,5774,5906,5930,6020,6120,6240,6546,6590,6728,6838,6898,7100,7182,7218,7292,7448,7586,7676,7832,8054,8066,8158,8170,8312,8420,8510,8558,8624,8730,8758,8864,9050,9078,9176,9278,9334,9410,9548,9668];
const s6239=[36,300,336,540,824,864,924,1092,1416,1568,1744,1792,1932,2076,2128,2232,2292,2392,2440,2488,2652,2748,3296,3332,3388,3492,3596,3644,3692,3740,3812,3916,3972,4032,4100,4308,4372,4484,4580,4604,4732,4792,4852,4908,4956,5052,5092,5140,5244,5356,5380,5556,5672,5832,5872,5972,6192,6232,6280,6612,6652,6848,6944,7436,7508,7676,7976,8096,8148,8264,8408,8468,8696,8972,9116,9168,9224,9308,9456,9508,9560,9608];
const s6238=[84,144,240,412,464,504,624,664,816,936,968,1208,1324,1376,1416,1476,1572,1624,1672,1724,1776,1852,2012,2064,2116,2184,2232,2288,2384,2436,2488,2592,2784,2928,3096,3312,3492,3752,3792,3892,3940,3992,4040,4088,4212,4780,5004,5176,5340,5508,5568,6060,6204,6312,6468,6648,6716,6812,6888,6928,6956,7000,7156,7200,7272,7380,7652,7760,7800,7892,7940,7988,8132,8192,8300,8624,9128,9260,9680,9752];
const s6237=[8,124,540,852,936,1496,1548,1620,1732,1776,1812,2012,2448,2892,2952,3132,3216,3328,3392,3452,3932,3984,4032,4092,4188,4404,4452,4484,4676,4724,4848,4924,5112,5532,5952,6056,6144,6224,6260,6396,6612,6684,6748,6920,7280,7424,7476,7892,7988,8060,8396,8828,8900,9044,9588,9728];
const s6236=[84,136,780,1296,1524,1716,1968,2496,2544,2904,3048,3636,3936,4464,4548,5016,5736,6956,7916,8048,9188,9704,9836];
const s6235=[396,732,888,1116,1248,1464,1740,2220,2388,2436,2676,3792,4044,4104,4164,4272,4416,4692,4908,5472,5712,5904,5992,6132,6504,6884,7844,8120,8324,8372,8504,8720,9368];
const s6234=[252,348,1452,1512,1764,1872,2016,2532,3192,4716,5256,5580,8420,8564,8696];
const s6233=[108,2280,2472,2640,4140,5208,5892,6384,9632];
const s6232=[2064,2688,3984,5952,6216];
const s6231=[2724];
const s6230=[3900,8600];
const s6229=[5076];
const s6228=[3288,3396];
const s6227=[1632];

const levels=[6273,6272,6271,6270,6269,6268,6267,6266,6265,6264,6263,6262,6261,6260,6259,6258,6257,6256,6255,6254,6253,6252,6251,6250,6249,6248,6247,6246,6245,6244,6243,6242,6241,6240,6239,6238,6237,6236,6235,6234,6233,6232,6231,6230,6229,6228,6227];
const samples=[s6273,s6272,s6271,s6270,s6269,s6268,s6267,s6266,s6265,s6264,s6263,s6262,s6261,s6260,s6259,s6258.concat(f6258),s6257.concat(f6257),s6256.concat(f6256),s6255.concat(f6255),s6254.concat(f6254),s6253.concat(f6253),s6252.concat(f6252),s6251.concat(f6251),s6250.concat(f6250),s6249.concat(f6249),s6248.concat(f6248),s6247.concat(f6247),s6246.concat(f6246),s6245.concat(f6245),s6244,s6243,s6242,s6241,s6240,s6239,s6238,s6237,s6236,s6235,s6234,s6233,s6232,s6231,s6230,s6229,s6228,s6227];

const points=[];
levels.forEach((v,i)=>samples[i].forEach(s=>points.push([s,v])));

const font='"DejaVu Sans"';
const plain=v=>String(v);
const chart=echarts.init(document.getElementById('c'),null,{renderer:'canvas'});
chart.setOption({
  animation:false,
  backgroundColor:'#fff',
  title:{text:titleText,left:527.5,top:9.5,textAlign:'center',textStyle:{fontFamily:font,fontSize:16.7,fontWeight:'normal',color:'#000'}},
  grid:{left:81,right:15,top:35,bottom:58,show:true,borderColor:'#000',borderWidth:1,backgroundColor:'transparent'},
  legend:{
    left:699,top:42,padding:[7.5,6,7.5,15.5],itemWidth:34.5,itemHeight:5.5,itemGap:0,
    backgroundColor:'rgba(255,255,255,0.8)',borderColor:'#ccc',borderWidth:1,borderRadius:3,
    data:[{name:seriesName,icon:'circle'}],
    formatter:()=>'{a|Samples\\n}{i|μ}{a| = 6250.66, }{i|σ}{a| = 5.97}',
    textStyle:{rich:{a:{fontFamily:font,fontSize:13.9,color:'#000'},i:{fontFamily:font,fontSize:13.9,fontStyle:'italic',color:'#000'}}}
  },
  xAxis:{type:'value',min:-480,max:10346,name:xName,nameLocation:'middle',nameGap:29,
    nameTextStyle:{fontFamily:font,fontSize:13.9,color:'#000'},
    axisLine:{show:true,onZero:false,lineStyle:{color:'#000',width:1}},
    axisTick:{show:true,customValues:xTicks,length:5,lineStyle:{color:'#000'}},
    axisLabel:{customValues:xTicks,formatter:plain,fontFamily:font,fontSize:13.9,color:'#000',margin:7,hideOverlap:false},
    splitLine:{show:true,customValues:xTicks,lineStyle:{color:'#b0b0b0',width:1}}},
  yAxis:{type:'value',min:6224.69,max:6275.36,name:yName,nameLocation:'middle',nameGap:39,
    nameTextStyle:{fontFamily:font,fontSize:13.9,color:'#000'},
    axisLine:{show:true,onZero:false,lineStyle:{color:'#000',width:1}},
    axisTick:{show:true,customValues:yTicks,length:5,lineStyle:{color:'#000'}},
    axisLabel:{customValues:yTicks,formatter:plain,fontFamily:font,fontSize:13.9,color:'#000',margin:9.5},
    splitLine:{show:true,customValues:yTicks,lineStyle:{color:'#b0b0b0',width:1}}},
  series:[{type:'scatter',name:seriesName,data:points,symbol:'circle',symbolSize:5.5,
    itemStyle:{color:'#000',opacity:1},large:false,progressive:0,emphasis:{disabled:true},silent:true}]
});
</script></body></html>
